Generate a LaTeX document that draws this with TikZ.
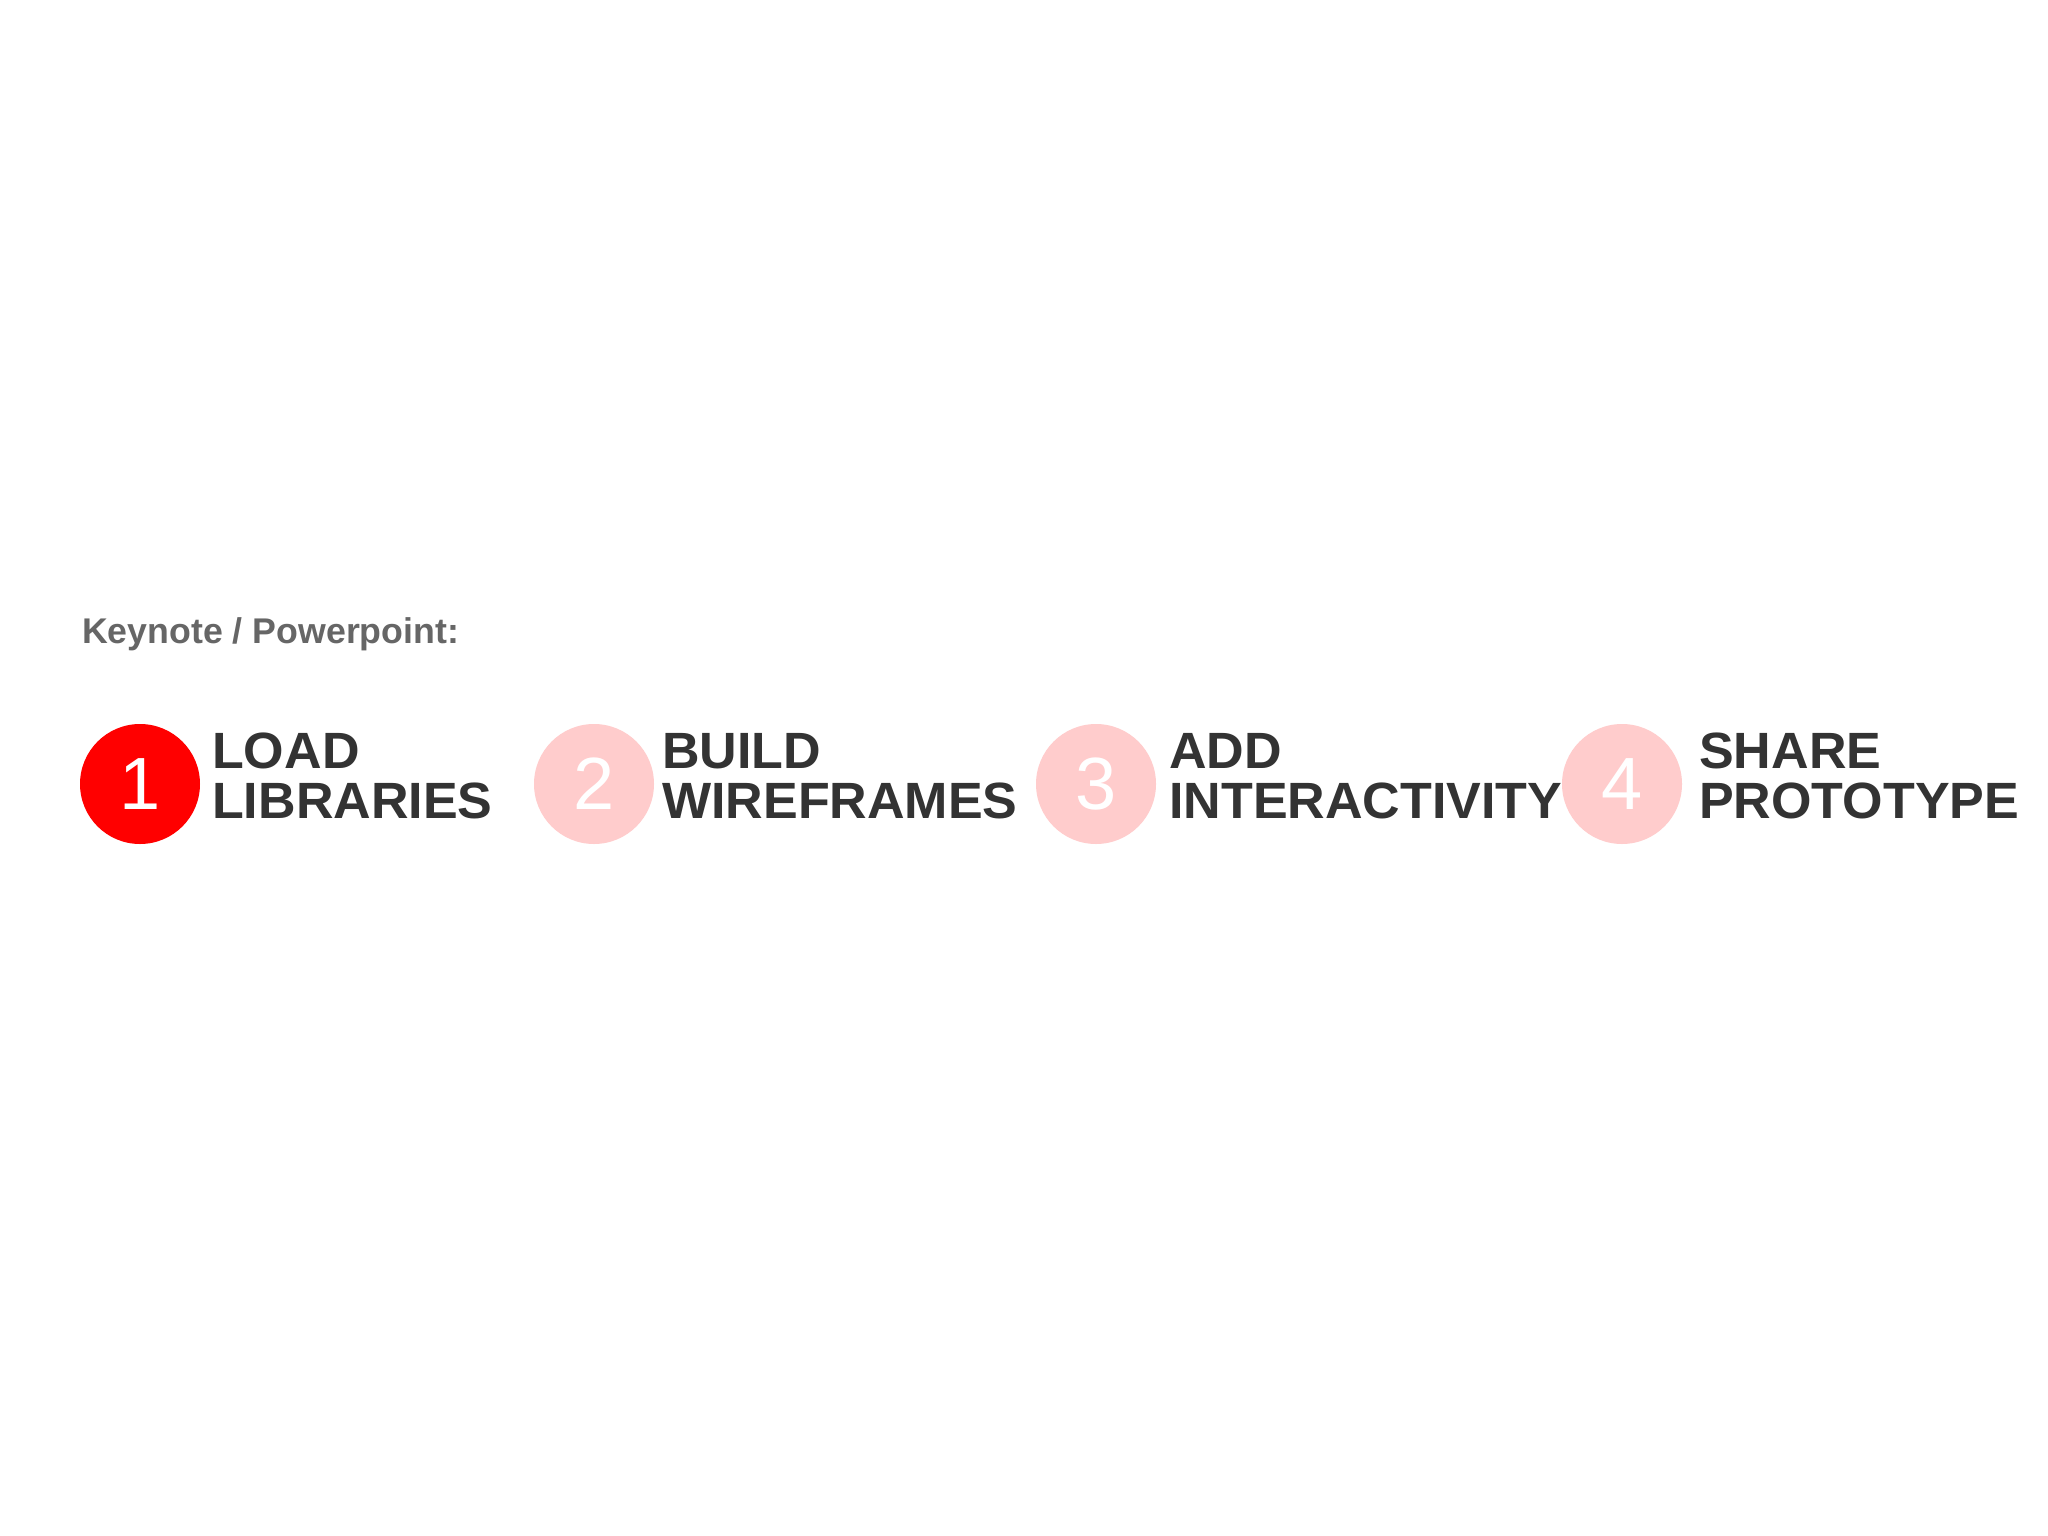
\documentclass[tikz,border=0pt]{standalone}
\usepackage{fontspec}
\setmainfont{Liberation Sans}
\newfontfamily\widebold[FakeStretch=1.02]{Liberation Sans Bold}
\definecolor{pinkc}{HTML}{FFCCCC}
\definecolor{redc}{HTML}{FF0000}
\definecolor{darkt}{HTML}{333333}
\definecolor{grayt}{HTML}{666666}
\begin{document}
\begin{tikzpicture}[x=1pt,y=-1pt,
  stepcircle/.style={circle,minimum size=120pt,inner sep=0pt,text=white,font=\fontsize{74}{74}\selectfont},
  steplabel/.style={anchor=base west,inner sep=0pt,text=darkt,font=\widebold\fontsize{51}{50}\selectfont},
  heading/.style={anchor=base west,inner sep=0pt,text=grayt,font=\fontsize{35.7}{36}\selectfont\bfseries}]
\fill[white] (0,0) rectangle (2048,1536);
\useasboundingbox (0,0) rectangle (2048,1536);
\node[heading] (head) at (82,643) {Keynote / Powerpoint:};
\node[stepcircle,fill=redc] (c1) at (140,784) {1};
\node[stepcircle,fill=pinkc] (c2) at (594,784) {2};
\node[stepcircle,fill=pinkc] (c3) at (1096,784) {3};
\node[stepcircle,fill=pinkc] (c4) at (1622,784) {4};
\node[steplabel] (l1a) at (212,768) {LOAD};
\node[steplabel] (l1b) at (212,818) {LIBRARIES};
\node[steplabel] (l2a) at (662,768) {BUILD};
\node[steplabel] (l2b) at (662,818) {WIREFRAMES};
\node[steplabel] (l3a) at (1169,768) {ADD};
\node[steplabel] (l3b) at (1169,818) {INTERACTIVITY};
\node[steplabel] (l4a) at (1699,768) {SHARE};
\node[steplabel] (l4b) at (1699,818) {PROTOTYPE};
\end{tikzpicture}
\end{document}
